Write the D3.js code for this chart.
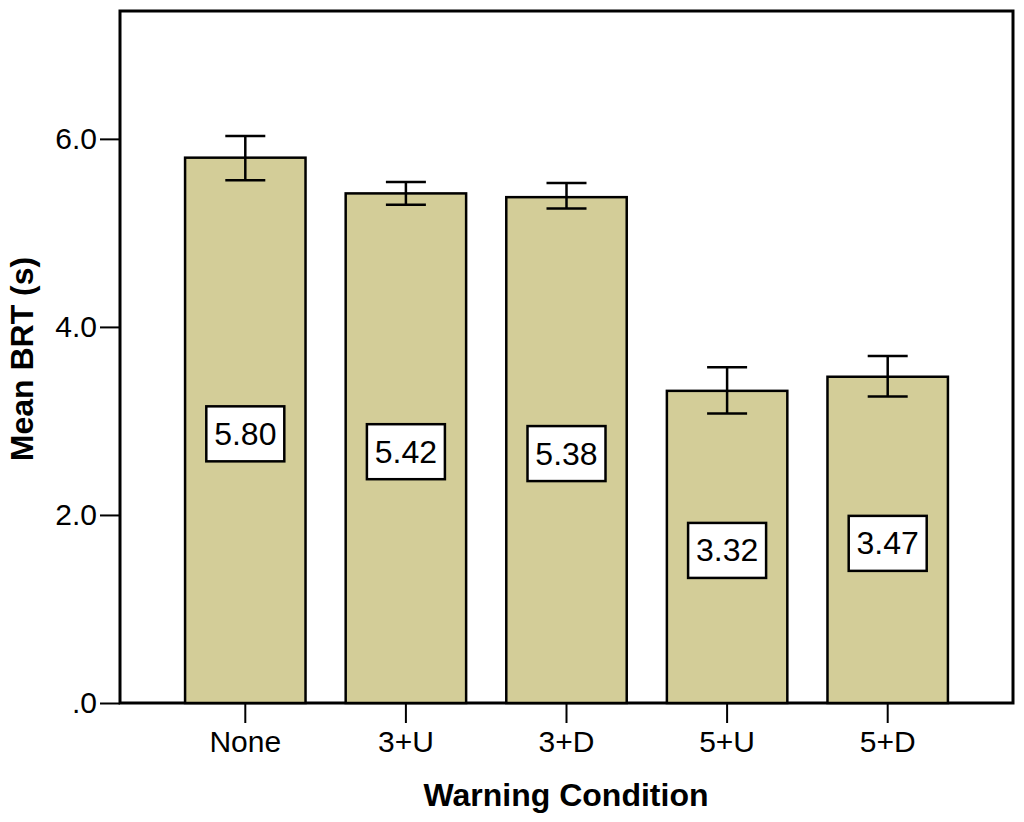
<!DOCTYPE html>
<html><head><meta charset="utf-8">
<script src="https://cdn.jsdelivr.net/npm/d3@7"></script>
<style>body{margin:0;background:#fff}svg{display:block}text{font-family:"Liberation Sans",Arial,sans-serif}</style>
</head><body>
<svg id="c" width="1024" height="822"></svg>
<script>
const categories = ["None","3+U","3+D","5+U","5+D"];
const means = [5.80,5.42,5.38,3.32,3.47];
const errLow = [5.56,5.30,5.26,3.08,3.26];
const errHigh = [6.03,5.54,5.53,3.57,3.69];
const yTicks = [0,2,4,6];
const yTickLabels = [".0","2.0","4.0","6.0"];

const svg = d3.select("#c");
const L=120,R=1013,T=11,B=703;
const x = d3.scaleBand().domain(categories).range([165,968]).paddingInner(0.25).paddingOuter(0.125);
const y = d3.scaleLinear().domain([0,7.36]).range([B,T]);
const data = categories.map((c,i)=>({c,m:means[i],lo:errLow[i],hi:errHigh[i]}));

// frame
svg.append("rect").attr("x",L).attr("y",T).attr("width",R-L).attr("height",B-T)
  .attr("fill","none").attr("stroke","#000").attr("stroke-width",3);

// bars
svg.selectAll(".bar").data(data).enter().append("rect")
  .attr("x",d=>x(d.c)).attr("y",d=>y(d.m)).attr("width",x.bandwidth()).attr("height",d=>B-y(d.m))
  .attr("fill","#d3cd98").attr("stroke","#000").attr("stroke-width",2.5);

// error bars
const eb = svg.selectAll(".eb").data(data).enter().append("g")
  .attr("stroke","#000").attr("stroke-width",2.5);
eb.append("line").attr("x1",d=>x(d.c)+x.bandwidth()/2).attr("x2",d=>x(d.c)+x.bandwidth()/2)
  .attr("y1",d=>y(d.lo)).attr("y2",d=>y(d.hi));
eb.append("line").attr("x1",d=>x(d.c)+x.bandwidth()/2-20).attr("x2",d=>x(d.c)+x.bandwidth()/2+20)
  .attr("y1",d=>y(d.lo)).attr("y2",d=>y(d.lo));
eb.append("line").attr("x1",d=>x(d.c)+x.bandwidth()/2-20).attr("x2",d=>x(d.c)+x.bandwidth()/2+20)
  .attr("y1",d=>y(d.hi)).attr("y2",d=>y(d.hi));

// value labels
const lb = svg.selectAll(".lb").data(data).enter().append("g")
  .attr("transform",d=>`translate(${x(d.c)+x.bandwidth()/2},${y(d.m/2)+3})`);
lb.append("rect").attr("x",-39).attr("y",-27).attr("width",78).attr("height",55)
  .attr("fill","#fff").attr("stroke","#000").attr("stroke-width",2.5);
lb.append("text").attr("text-anchor","middle").attr("dy","0.36em").attr("font-size",32)
  .text(d=>d.m.toFixed(2));

// y axis
const yAxis = d3.axisLeft(y).tickValues(yTicks).tickFormat((d,i)=>yTickLabels[i]).tickSize(20).tickPadding(3);
const ya = svg.append("g").attr("transform",`translate(${L},0)`).call(yAxis);
ya.select(".domain").remove();
ya.selectAll("line").attr("stroke","#000").attr("stroke-width",2);
ya.selectAll("text").attr("font-size",30).attr("fill","#000").attr("font-family","Liberation Sans, Arial, sans-serif");

// x axis
const xAxis = d3.axisBottom(x).tickSize(20).tickPadding(8);
const xa = svg.append("g").attr("transform",`translate(0,${B})`).call(xAxis);
xa.select(".domain").remove();
xa.selectAll("line").attr("stroke","#000").attr("stroke-width",2);
xa.selectAll("text").attr("font-size",30).attr("fill","#000").attr("font-family","Liberation Sans, Arial, sans-serif");

// titles
svg.append("text").attr("x",566).attr("y",806).attr("text-anchor","middle")
  .attr("font-size",32).attr("font-weight","bold").text("Warning Condition");
svg.append("text").attr("transform","translate(33,359) rotate(-90)").attr("text-anchor","middle")
  .attr("font-size",32).attr("font-weight","bold").text("Mean BRT (s)");
</script>
</body></html>
